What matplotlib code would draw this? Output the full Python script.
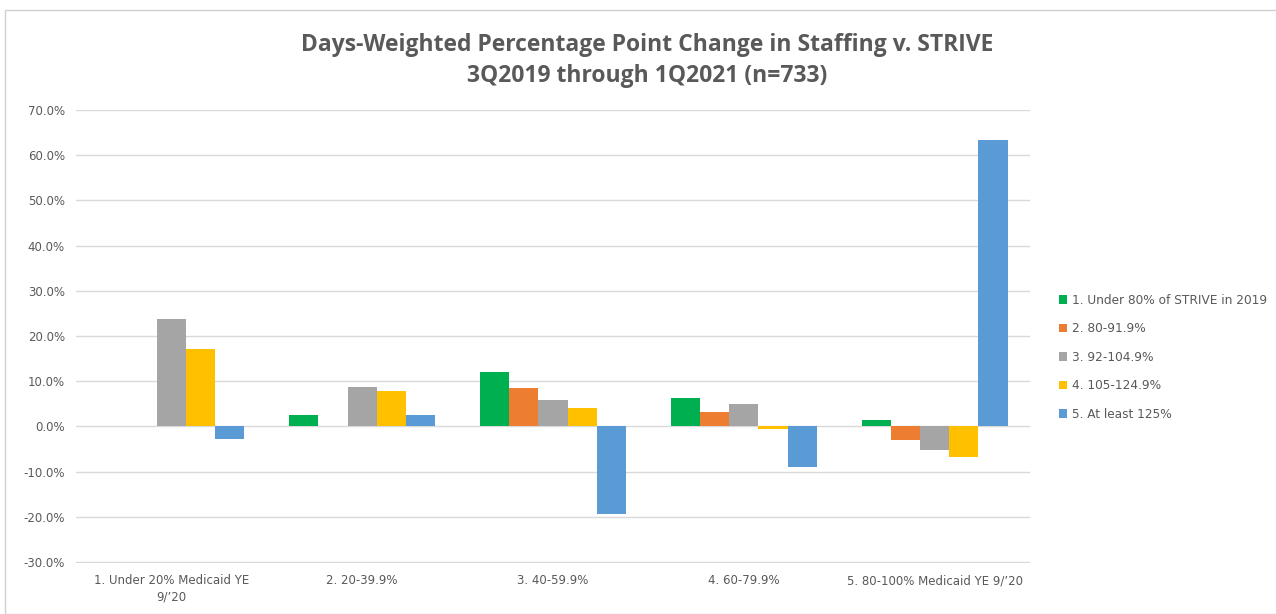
import numpy as np
import matplotlib.pyplot as plt
from matplotlib.patches import Rectangle
from matplotlib.ticker import PercentFormatter

plt.rcParams["axes.unicode_minus"] = False

# Data
categories = ["1. Under 20% Medicaid YE\n9/\u201920", "2. 20-39.9%", "3. 40-59.9%",
              "4. 60-79.9%", "5. 80-100% Medicaid YE 9/\u201920"]
series = ["1. Under 80% of STRIVE in 2019", "2. 80-91.9%", "3. 92-104.9%",
          "4. 105-124.9%", "5. At least 125%"]
under_80 = [0.0, 2.6, 12.0, 6.3, 1.4]
s80_91 = [0.0, 0.0, 8.5, 3.3, -2.9]
s92_104 = [23.8, 8.8, 5.8, 5.0, -5.1]
s105_124 = [17.2, 7.9, 4.0, -0.5, -6.7]
at_least_125 = [-2.7, 2.6, -19.3, -8.9, 63.4]
colors = ["#00b050", "#ed7d31", "#a5a5a5", "#ffc000", "#5b9bd5"]

values = [under_80, s80_91, s92_104, s105_124, at_least_125]
grey = "#595959"

fig = plt.figure(figsize=(12.76, 6.14), dpi=100)
ax = fig.add_axes([76 / 1276, 1 - 563 / 614, (1030 - 76) / 1276, (563 - 110) / 614])

x = np.arange(len(categories))
w = 0.153
for i, (vals, name, c) in enumerate(zip(values, series, colors)):
    ax.bar(x + (i - 2) * w, np.array(vals) / 100, w, color=c, label=name, zorder=3)

ax.set_ylim(-0.302, 0.70)
ax.set_xlim(-0.5, len(categories) - 0.5)
ax.set_yticks(np.arange(-0.3, 0.71, 0.1))
ax.yaxis.set_major_formatter(PercentFormatter(1.0, decimals=1))
ax.grid(axis="y", color="#d9d9d9", linewidth=1, zorder=0)
for s in ax.spines.values():
    s.set_visible(False)
ax.tick_params(axis="both", length=0, labelsize=8.5, labelcolor=grey, pad=8)
ax.set_xticks(x)
ax.set_xticklabels(categories, linespacing=1.3)

title_font = ["Open Sans", "DejaVu Sans"]
fig.text(0.507, 1 - 45 / 614, "Days-Weighted Percentage Point Change in Staffing v. STRIVE",
         ha="center", va="center", fontsize=16.5, fontweight="bold", color=grey,
         family=title_font)
fig.text(0.507, 1 - 76 / 614, "3Q2019 through 1Q2021 (n=733)",
         ha="center", va="center", fontsize=16.5, fontweight="bold", color=grey,
         family=title_font)

leg = fig.legend(loc="upper left", bbox_to_anchor=(1048 / 1276, 1 - 283 / 614),
                 frameon=False, fontsize=8.7, handlelength=0.7, handleheight=0.7,
                 handletextpad=0.4, labelspacing=1.28, labelcolor=grey)

fig.patches.append(Rectangle((5 / 1276, 0), 1, 1 - 10 / 614, transform=fig.transFigure,
                             fill=False, edgecolor="#d0d0d0", linewidth=1))

fig.savefig("out.png", dpi=100)
